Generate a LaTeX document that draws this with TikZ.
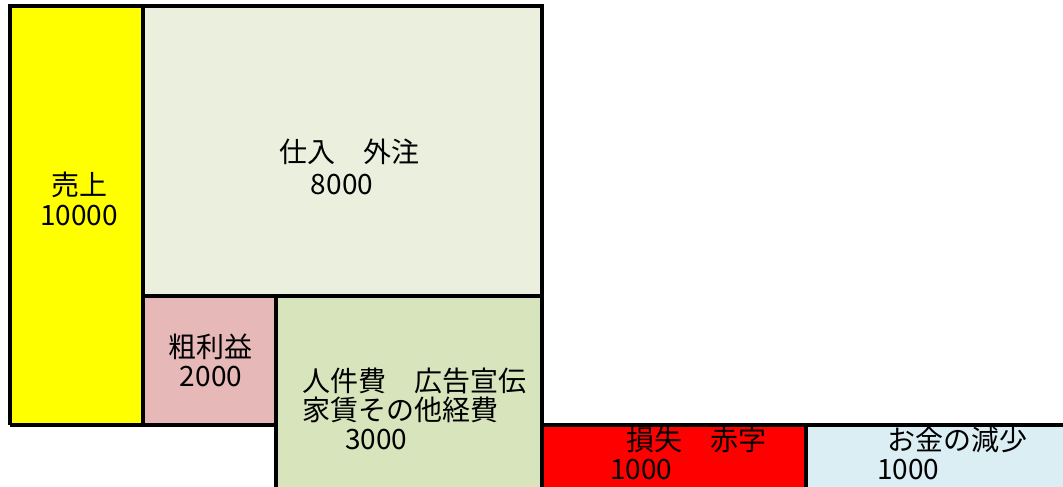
\documentclass[tikz,border=0pt]{standalone}
\usepackage{fontspec}
\setmainfont{Noto Sans CJK JP}
\definecolor{cYellow}{HTML}{FFFF00}
\definecolor{cGray}{HTML}{EBEFDE}
\definecolor{cPink}{HTML}{E6B8B7}
\definecolor{cGreen}{HTML}{D8E4BC}
\definecolor{cRed}{HTML}{FF0000}
\definecolor{cBlue}{HTML}{DAEEF3}
\begin{document}
\begin{tikzpicture}[x=1pt,y=-1pt,
  border/.style={line width=3.2pt,draw=black},
  lbl/.style={inner sep=0pt,font=\fontsize{28}{30}\selectfont},
  lblw/.style={lbl,anchor=west}]
\useasboundingbox (0,0) rectangle (1063,487);
% fills
\fill[cYellow] (10,6) rectangle (143,425);
\fill[cGray] (143,6) rectangle (542,296);
\fill[cPink] (143,296) rectangle (276,425);
\fill[cGreen] (276,296) rectangle (542,487);
\fill[cRed] (542,425) rectangle (806,487);
\fill[cBlue] (806,425) rectangle (1063,487);
% borders
\draw[border] (10,425) -- (10,6) -- (542,6) -- (542,487);
\draw[border] (10,425) -- (276,425);
\draw[border] (143,6) -- (143,425);
\draw[border] (143,296) -- (542,296);
\draw[border] (276,296) -- (276,487);
\draw[border] (542,425) -- (1063,425);
\draw[border] (806,425) -- (806,487);
% texts
\node[lbl] (uri) at (79,185) {売上};
\node[lbl] (urin) at (79,216) {10000};
\node[lbl] (shiire) at (349,152) {仕入　外注};
\node[lbl] (shiiren) at (342,185) {8000};
\node[lbl] (arari) at (210,347) {粗利益};
\node[lbl] (ararin) at (211,377) {2000};
\node[lblw] (keihi1) at (302,381) {人件費　広告宣伝};
\node[lblw] (keihi2) at (302,410) {家賃その他経費};
\node[lblw] (keihin) at (345,440) {3000};
\node[lblw] (sonshitsu) at (626,440) {損失　赤字};
\node[lblw] (sonshitsun) at (610,470) {1000};
\node[lblw] (genshou) at (887,440) {お金の減少};
\node[lblw] (genshoun) at (877,470) {1000};
\end{tikzpicture}
\end{document}
